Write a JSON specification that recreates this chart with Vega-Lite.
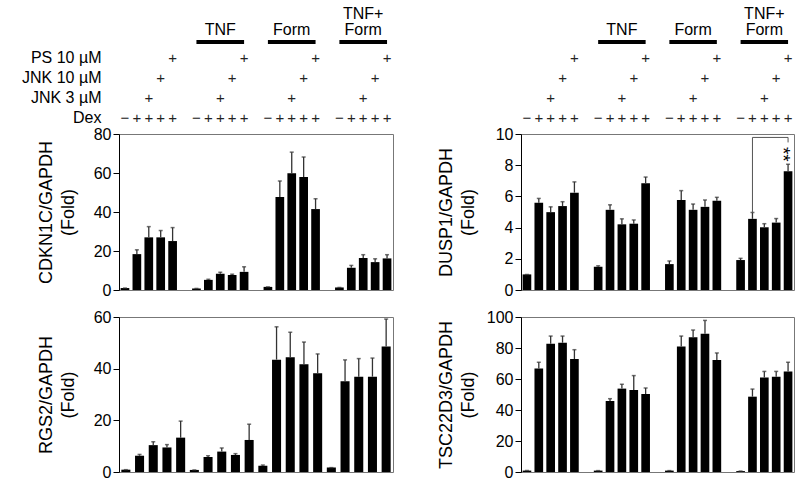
{
  "$schema": "https://vega.github.io/schema/vega-lite/v6.json",
  "background": "white",
  "padding": {"left": 21, "top": 6, "right": 5, "bottom": 3},
  "config": {
    "font": "Liberation Sans",
    "view": {"stroke": "#777", "strokeWidth": 1},
    "axis": {
      "labelFont": "Liberation Sans",
      "titleFont": "Liberation Sans",
      "labelFontSize": 16,
      "titleFontSize": 18,
      "titleFontWeight": "normal",
      "labelColor": "#000",
      "titleColor": "#000",
      "domainColor": "#000",
      "tickColor": "#000",
      "tickSize": 6,
      "labelPadding": 2,
      "labelOverlap": false,
      "titleLineHeight": 22,
      "grid": false
    }
  },
  "datasets": {
    "bars": [
      {"gene": "CDKN1C", "slot": "V1", "mean": 1.0, "upper": 1.0},
      {"gene": "CDKN1C", "slot": "V2", "mean": 18.4, "upper": 20.6},
      {"gene": "CDKN1C", "slot": "V3", "mean": 27.0, "upper": 32.5},
      {"gene": "CDKN1C", "slot": "V4", "mean": 27.0, "upper": 30.5},
      {"gene": "CDKN1C", "slot": "V5", "mean": 25.1, "upper": 32.0},
      {"gene": "CDKN1C", "slot": "T1", "mean": 0.8, "upper": 0.8},
      {"gene": "CDKN1C", "slot": "T2", "mean": 5.2, "upper": 5.5},
      {"gene": "CDKN1C", "slot": "T3", "mean": 8.3, "upper": 9.1},
      {"gene": "CDKN1C", "slot": "T4", "mean": 7.7, "upper": 8.1},
      {"gene": "CDKN1C", "slot": "T5", "mean": 9.3, "upper": 11.9},
      {"gene": "CDKN1C", "slot": "F1", "mean": 1.6, "upper": 1.6},
      {"gene": "CDKN1C", "slot": "F2", "mean": 47.7, "upper": 55.9},
      {"gene": "CDKN1C", "slot": "F3", "mean": 59.9, "upper": 70.7},
      {"gene": "CDKN1C", "slot": "F4", "mean": 58.0, "upper": 68.2},
      {"gene": "CDKN1C", "slot": "F5", "mean": 41.5, "upper": 46.8},
      {"gene": "CDKN1C", "slot": "TF1", "mean": 1.3, "upper": 1.3},
      {"gene": "CDKN1C", "slot": "TF2", "mean": 11.4, "upper": 12.6},
      {"gene": "CDKN1C", "slot": "TF3", "mean": 16.4, "upper": 18.1},
      {"gene": "CDKN1C", "slot": "TF4", "mean": 14.3, "upper": 16.0},
      {"gene": "CDKN1C", "slot": "TF5", "mean": 16.2, "upper": 18.1},
      {"gene": "DUSP1", "slot": "V1", "mean": 1.0, "upper": 1.0},
      {"gene": "DUSP1", "slot": "V2", "mean": 5.59, "upper": 5.87},
      {"gene": "DUSP1", "slot": "V3", "mean": 4.99, "upper": 5.33},
      {"gene": "DUSP1", "slot": "V4", "mean": 5.38, "upper": 5.66},
      {"gene": "DUSP1", "slot": "V5", "mean": 6.24, "upper": 6.93},
      {"gene": "DUSP1", "slot": "T1", "mean": 1.49, "upper": 1.55},
      {"gene": "DUSP1", "slot": "T2", "mean": 5.14, "upper": 5.46},
      {"gene": "DUSP1", "slot": "T3", "mean": 4.21, "upper": 4.56},
      {"gene": "DUSP1", "slot": "T4", "mean": 4.25, "upper": 4.49},
      {"gene": "DUSP1", "slot": "T5", "mean": 6.85, "upper": 7.24},
      {"gene": "DUSP1", "slot": "F1", "mean": 1.66, "upper": 1.86},
      {"gene": "DUSP1", "slot": "F2", "mean": 5.77, "upper": 6.37},
      {"gene": "DUSP1", "slot": "F3", "mean": 5.14, "upper": 5.51},
      {"gene": "DUSP1", "slot": "F4", "mean": 5.33, "upper": 5.77},
      {"gene": "DUSP1", "slot": "F5", "mean": 5.72, "upper": 5.94},
      {"gene": "DUSP1", "slot": "TF1", "mean": 1.92, "upper": 2.03},
      {"gene": "DUSP1", "slot": "TF2", "mean": 4.56, "upper": 4.97},
      {"gene": "DUSP1", "slot": "TF3", "mean": 4.02, "upper": 4.25},
      {"gene": "DUSP1", "slot": "TF4", "mean": 4.32, "upper": 4.58},
      {"gene": "DUSP1", "slot": "TF5", "mean": 7.62, "upper": 8.06},
      {"gene": "RGS2", "slot": "V1", "mean": 0.9, "upper": 0.9},
      {"gene": "RGS2", "slot": "V2", "mean": 6.3, "upper": 6.8},
      {"gene": "RGS2", "slot": "V3", "mean": 10.4, "upper": 11.7},
      {"gene": "RGS2", "slot": "V4", "mean": 9.5, "upper": 10.6},
      {"gene": "RGS2", "slot": "V5", "mean": 13.3, "upper": 19.7},
      {"gene": "RGS2", "slot": "T1", "mean": 0.8, "upper": 0.8},
      {"gene": "RGS2", "slot": "T2", "mean": 5.8, "upper": 6.3},
      {"gene": "RGS2", "slot": "T3", "mean": 7.9, "upper": 9.3},
      {"gene": "RGS2", "slot": "T4", "mean": 6.6, "upper": 7.1},
      {"gene": "RGS2", "slot": "T5", "mean": 12.4, "upper": 18.5},
      {"gene": "RGS2", "slot": "F1", "mean": 2.4, "upper": 2.7},
      {"gene": "RGS2", "slot": "F2", "mean": 43.5, "upper": 56.2},
      {"gene": "RGS2", "slot": "F3", "mean": 44.4, "upper": 54.1},
      {"gene": "RGS2", "slot": "F4", "mean": 41.7, "upper": 50.3},
      {"gene": "RGS2", "slot": "F5", "mean": 38.2, "upper": 45.7},
      {"gene": "RGS2", "slot": "TF1", "mean": 1.7, "upper": 1.7},
      {"gene": "RGS2", "slot": "TF2", "mean": 35.1, "upper": 43.4},
      {"gene": "RGS2", "slot": "TF3", "mean": 36.9, "upper": 43.9},
      {"gene": "RGS2", "slot": "TF4", "mean": 36.9, "upper": 44.1},
      {"gene": "RGS2", "slot": "TF5", "mean": 48.6, "upper": 59.2},
      {"gene": "TSC22D3", "slot": "V1", "mean": 0.9, "upper": 0.9},
      {"gene": "TSC22D3", "slot": "V2", "mean": 66.7, "upper": 70.8},
      {"gene": "TSC22D3", "slot": "V3", "mean": 82.8, "upper": 87.7},
      {"gene": "TSC22D3", "slot": "V4", "mean": 83.4, "upper": 87.7},
      {"gene": "TSC22D3", "slot": "V5", "mean": 72.9, "upper": 78.9},
      {"gene": "TSC22D3", "slot": "T1", "mean": 0.9, "upper": 0.9},
      {"gene": "TSC22D3", "slot": "T2", "mean": 45.8, "upper": 47.3},
      {"gene": "TSC22D3", "slot": "T3", "mean": 53.8, "upper": 56.6},
      {"gene": "TSC22D3", "slot": "T4", "mean": 52.9, "upper": 62.2},
      {"gene": "TSC22D3", "slot": "T5", "mean": 50.3, "upper": 54.2},
      {"gene": "TSC22D3", "slot": "F1", "mean": 0.9, "upper": 0.9},
      {"gene": "TSC22D3", "slot": "F2", "mean": 80.9, "upper": 87.7},
      {"gene": "TSC22D3", "slot": "F3", "mean": 86.9, "upper": 91.6},
      {"gene": "TSC22D3", "slot": "F4", "mean": 89.2, "upper": 97.8},
      {"gene": "TSC22D3", "slot": "F5", "mean": 72.3, "upper": 76.8},
      {"gene": "TSC22D3", "slot": "TF1", "mean": 0.6, "upper": 0.6},
      {"gene": "TSC22D3", "slot": "TF2", "mean": 48.6, "upper": 53.5},
      {"gene": "TSC22D3", "slot": "TF3", "mean": 60.9, "upper": 64.9},
      {"gene": "TSC22D3", "slot": "TF4", "mean": 61.5, "upper": 64.9},
      {"gene": "TSC22D3", "slot": "TF5", "mean": 64.9, "upper": 70.8}
    ],
    "signs": [
      {"slot": "V1", "row": "Dex", "s": "−"},
      {"slot": "V2", "row": "Dex", "s": "+"},
      {"slot": "V3", "row": "Dex", "s": "+"},
      {"slot": "V4", "row": "Dex", "s": "+"},
      {"slot": "V5", "row": "Dex", "s": "+"},
      {"slot": "V3", "row": "JNK 3 µM", "s": "+"},
      {"slot": "V4", "row": "JNK 10 µM", "s": "+"},
      {"slot": "V5", "row": "PS 10 µM", "s": "+"},
      {"slot": "T1", "row": "Dex", "s": "−"},
      {"slot": "T2", "row": "Dex", "s": "+"},
      {"slot": "T3", "row": "Dex", "s": "+"},
      {"slot": "T4", "row": "Dex", "s": "+"},
      {"slot": "T5", "row": "Dex", "s": "+"},
      {"slot": "T3", "row": "JNK 3 µM", "s": "+"},
      {"slot": "T4", "row": "JNK 10 µM", "s": "+"},
      {"slot": "T5", "row": "PS 10 µM", "s": "+"},
      {"slot": "F1", "row": "Dex", "s": "−"},
      {"slot": "F2", "row": "Dex", "s": "+"},
      {"slot": "F3", "row": "Dex", "s": "+"},
      {"slot": "F4", "row": "Dex", "s": "+"},
      {"slot": "F5", "row": "Dex", "s": "+"},
      {"slot": "F3", "row": "JNK 3 µM", "s": "+"},
      {"slot": "F4", "row": "JNK 10 µM", "s": "+"},
      {"slot": "F5", "row": "PS 10 µM", "s": "+"},
      {"slot": "TF1", "row": "Dex", "s": "−"},
      {"slot": "TF2", "row": "Dex", "s": "+"},
      {"slot": "TF3", "row": "Dex", "s": "+"},
      {"slot": "TF4", "row": "Dex", "s": "+"},
      {"slot": "TF5", "row": "Dex", "s": "+"},
      {"slot": "TF3", "row": "JNK 3 µM", "s": "+"},
      {"slot": "TF4", "row": "JNK 10 µM", "s": "+"},
      {"slot": "TF5", "row": "PS 10 µM", "s": "+"}
    ],
    "groupbars": [
      {"start": "T1", "end": "T5", "row": "Group"},
      {"start": "F1", "end": "F5", "row": "Group"},
      {"start": "TF1", "end": "TF5", "row": "Group"}
    ],
    "grouplabels": [
      {"slot": "T3", "row": "Group", "line": "lower", "label": "TNF"},
      {"slot": "F3", "row": "Group", "line": "lower", "label": "Form"},
      {"slot": "TF3", "row": "Group", "line": "lower", "label": "Form"},
      {"slot": "TF3", "row": "Group", "line": "upper", "label": "TNF+"}
    ],
    "bracket": [
      {"slot": "TF2", "v": 4.97, "k": 1},
      {"slot": "TF2", "v": 9.78, "k": 2},
      {"slot": "TF5", "v": 9.78, "k": 3},
      {"slot": "TF5", "v": 9.46, "k": 4}
    ],
    "stars": [
      {"slot": "TF5", "v": 8.7, "t": "**"}
    ]
  },
  "spacing": 42,
  "hconcat": [
    {
      "spacing": -3,
      "vconcat": [
        {
          "width": 274,
          "height": 100,
          "view": {"stroke": null},
          "encoding": {
            "x": {"field": "slot", "type": "nominal", "scale": {"domain": ["V1","V2","V3","V4","V5","g1","T1","T2","T3","T4","T5","g2","F1","F2","F3","F4","F5","g3","TF1","TF2","TF3","TF4","TF5"], "paddingInner": 0.27, "paddingOuter": 0.135}, "axis": null}
          },
          "layer": [
            {
              "data": {"name": "signs"},
              "mark": {"type": "text", "fontSize": 15, "color": "#222", "baseline": "middle"},
              "encoding": {
                "y": {"field": "row", "type": "nominal", "scale": {"type": "band", "domain": ["Group", "PS 10 µM", "JNK 10 µM", "JNK 3 µM", "Dex"], "paddingInner": 0, "paddingOuter": 0}, "axis": {"title": null, "domain": false, "ticks": false, "labelPadding": 18, "labelFontSize": 16, "labelExpr": "datum.value == 'Group' ? '' : datum.value"}},
                "text": {"field": "s"}
              }
            },
            {
              "data": {"name": "groupbars"},
              "mark": {"type": "rule", "color": "black", "strokeWidth": 4, "strokeCap": "butt"},
              "encoding": {
                "x": {"field": "start", "type": "nominal"},
                "x2": {"field": "end"},
                "y": {"field": "row", "type": "nominal", "bandPosition": 0.7}
              }
            },
            {
              "data": {"name": "grouplabels"},
              "transform": [{"filter": "datum.line == 'lower'"}],
              "mark": {"type": "text", "fontSize": 16, "color": "black", "baseline": "bottom"},
              "encoding": {
                "y": {"field": "row", "type": "nominal", "bandPosition": 0.5},
                "text": {"field": "label"}
              }
            },
            {
              "data": {"name": "grouplabels"},
              "transform": [{"filter": "datum.line == 'upper'"}],
              "mark": {"type": "text", "fontSize": 16, "color": "black", "baseline": "bottom", "dy": -16},
              "encoding": {
                "y": {"field": "row", "type": "nominal", "bandPosition": 0.5},
                "text": {"field": "label"}
              }
            }
          ]
        },
        {
          "spacing": 9,
          "vconcat": [
            {
              "width": 274,
              "height": 156,
              "data": {"name": "bars"},
              "transform": [{"filter": "datum.gene == 'CDKN1C'"}],
              "encoding": {
                "x": {"field": "slot", "type": "nominal", "scale": {"domain": ["V1","V2","V3","V4","V5","g1","T1","T2","T3","T4","T5","g2","F1","F2","F3","F4","F5","g3","TF1","TF2","TF3","TF4","TF5"], "paddingInner": 0.27, "paddingOuter": 0.135}, "axis": null}
              },
              "layer": [
                {
                  "mark": {"type": "bar", "color": "black"},
                  "encoding": {"y": {"field": "mean", "type": "quantitative", "title": ["CDKN1C/GAPDH", "(Fold)"], "scale": {"domain": [0, 80]}, "axis": {"values": [0, 20, 40, 60, 80], "titlePadding": 16}}}
                },
                {
                  "mark": {"type": "rule", "color": "#333", "strokeWidth": 1.3},
                  "encoding": {"y": {"field": "mean", "type": "quantitative", "title": ["CDKN1C/GAPDH", "(Fold)"], "axis": {"values": [0, 20, 40, 60, 80], "titlePadding": 16}}, "y2": {"field": "upper"}}
                },
                {
                  "mark": {"type": "tick", "color": "#333", "size": 4, "thickness": 1.5},
                  "encoding": {"y": {"field": "upper", "type": "quantitative", "title": ["CDKN1C/GAPDH", "(Fold)"], "axis": {"values": [0, 20, 40, 60, 80], "titlePadding": 16}}}
                }
              ]
            },
            {
              "width": 274,
              "height": 155,
              "data": {"name": "bars"},
              "transform": [{"filter": "datum.gene == 'RGS2'"}],
              "encoding": {
                "x": {"field": "slot", "type": "nominal", "scale": {"domain": ["V1","V2","V3","V4","V5","T1","T2","T3","T4","T5","F1","F2","F3","F4","F5","TF1","TF2","TF3","TF4","TF5"], "paddingInner": 0.34, "paddingOuter": 0.17}, "axis": null}
              },
              "layer": [
                {
                  "mark": {"type": "bar", "color": "black"},
                  "encoding": {"y": {"field": "mean", "type": "quantitative", "title": ["RGS2/GAPDH", "(Fold)"], "scale": {"domain": [0, 60]}, "axis": {"values": [0, 20, 40, 60], "titlePadding": 16}}}
                },
                {
                  "mark": {"type": "rule", "color": "#333", "strokeWidth": 1.3},
                  "encoding": {"y": {"field": "mean", "type": "quantitative", "title": ["RGS2/GAPDH", "(Fold)"], "axis": {"values": [0, 20, 40, 60], "titlePadding": 16}}, "y2": {"field": "upper"}}
                },
                {
                  "mark": {"type": "tick", "color": "#333", "size": 4, "thickness": 1.5},
                  "encoding": {"y": {"field": "upper", "type": "quantitative", "title": ["RGS2/GAPDH", "(Fold)"], "axis": {"values": [0, 20, 40, 60], "titlePadding": 16}}}
                }
              ]
            }
          ]
        }
      ]
    },
    {
      "spacing": -3,
      "vconcat": [
        {
          "width": 273,
          "height": 100,
          "view": {"stroke": null},
          "encoding": {
            "x": {"field": "slot", "type": "nominal", "scale": {"domain": ["V1","V2","V3","V4","V5","g1","T1","T2","T3","T4","T5","g2","F1","F2","F3","F4","F5","g3","TF1","TF2","TF3","TF4","TF5"], "paddingInner": 0.27, "paddingOuter": 0.135}, "axis": null}
          },
          "layer": [
            {
              "data": {"name": "signs"},
              "mark": {"type": "text", "fontSize": 15, "color": "#222", "baseline": "middle"},
              "encoding": {
                "y": {"field": "row", "type": "nominal", "scale": {"type": "band", "domain": ["Group", "PS 10 µM", "JNK 10 µM", "JNK 3 µM", "Dex"], "paddingInner": 0, "paddingOuter": 0}, "axis": null},
                "text": {"field": "s"}
              }
            },
            {
              "data": {"name": "groupbars"},
              "mark": {"type": "rule", "color": "black", "strokeWidth": 4, "strokeCap": "butt"},
              "encoding": {
                "x": {"field": "start", "type": "nominal"},
                "x2": {"field": "end"},
                "y": {"field": "row", "type": "nominal", "bandPosition": 0.7}
              }
            },
            {
              "data": {"name": "grouplabels"},
              "transform": [{"filter": "datum.line == 'lower'"}],
              "mark": {"type": "text", "fontSize": 16, "color": "black", "baseline": "bottom"},
              "encoding": {
                "y": {"field": "row", "type": "nominal", "bandPosition": 0.5},
                "text": {"field": "label"}
              }
            },
            {
              "data": {"name": "grouplabels"},
              "transform": [{"filter": "datum.line == 'upper'"}],
              "mark": {"type": "text", "fontSize": 16, "color": "black", "baseline": "bottom", "dy": -16},
              "encoding": {
                "y": {"field": "row", "type": "nominal", "bandPosition": 0.5},
                "text": {"field": "label"}
              }
            }
          ]
        },
        {
          "spacing": 9,
          "vconcat": [
            {
              "width": 273,
              "height": 156,
              "encoding": {
                "x": {"field": "slot", "type": "nominal", "scale": {"domain": ["V1","V2","V3","V4","V5","g1","T1","T2","T3","T4","T5","g2","F1","F2","F3","F4","F5","g3","TF1","TF2","TF3","TF4","TF5"], "paddingInner": 0.27, "paddingOuter": 0.135}, "axis": null}
              },
              "layer": [
                {
                  "data": {"name": "bars"},
                  "transform": [{"filter": "datum.gene == 'DUSP1'"}],
                  "mark": {"type": "bar", "color": "black"},
                  "encoding": {"y": {"field": "mean", "type": "quantitative", "title": ["DUSP1/GAPDH", "(Fold)"], "scale": {"domain": [0, 10]}, "axis": {"values": [0, 2, 4, 6, 8, 10], "titlePadding": 18}}}
                },
                {
                  "data": {"name": "bars"},
                  "transform": [{"filter": "datum.gene == 'DUSP1'"}],
                  "mark": {"type": "rule", "color": "#333", "strokeWidth": 1.3},
                  "encoding": {"y": {"field": "mean", "type": "quantitative", "title": ["DUSP1/GAPDH", "(Fold)"], "axis": {"values": [0, 2, 4, 6, 8, 10], "titlePadding": 18}}, "y2": {"field": "upper"}}
                },
                {
                  "data": {"name": "bars"},
                  "transform": [{"filter": "datum.gene == 'DUSP1'"}],
                  "mark": {"type": "tick", "color": "#333", "size": 4, "thickness": 1.5},
                  "encoding": {"y": {"field": "upper", "type": "quantitative", "title": ["DUSP1/GAPDH", "(Fold)"], "axis": {"values": [0, 2, 4, 6, 8, 10], "titlePadding": 18}}}
                },
                {
                  "data": {"name": "bracket"},
                  "mark": {"type": "line", "color": "#555", "strokeWidth": 1},
                  "encoding": {"y": {"field": "v", "type": "quantitative", "title": ["DUSP1/GAPDH", "(Fold)"], "axis": {"values": [0, 2, 4, 6, 8, 10], "titlePadding": 18}}, "order": {"field": "k"}}
                },
                {
                  "data": {"name": "stars"},
                  "mark": {"type": "text", "fontSize": 19, "color": "black", "angle": 90, "align": "center", "baseline": "middle", "dy": 5},
                  "encoding": {"y": {"field": "v", "type": "quantitative", "title": ["DUSP1/GAPDH", "(Fold)"], "axis": {"values": [0, 2, 4, 6, 8, 10], "titlePadding": 18}}, "text": {"field": "t"}}
                }
              ]
            },
            {
              "width": 273,
              "height": 155,
              "data": {"name": "bars"},
              "transform": [{"filter": "datum.gene == 'TSC22D3'"}],
              "encoding": {
                "x": {"field": "slot", "type": "nominal", "scale": {"domain": ["V1","V2","V3","V4","V5","g1","T1","T2","T3","T4","T5","g2","F1","F2","F3","F4","F5","g3","TF1","TF2","TF3","TF4","TF5"], "paddingInner": 0.27, "paddingOuter": 0.135}, "axis": null}
              },
              "layer": [
                {
                  "mark": {"type": "bar", "color": "black"},
                  "encoding": {"y": {"field": "mean", "type": "quantitative", "title": ["TSC22D3/GAPDH", "(Fold)"], "scale": {"domain": [0, 100]}, "axis": {"values": [0, 20, 40, 60, 80, 100], "titlePadding": 9}}}
                },
                {
                  "mark": {"type": "rule", "color": "#333", "strokeWidth": 1.3},
                  "encoding": {"y": {"field": "mean", "type": "quantitative", "title": ["TSC22D3/GAPDH", "(Fold)"], "axis": {"values": [0, 20, 40, 60, 80, 100], "titlePadding": 9}}, "y2": {"field": "upper"}}
                },
                {
                  "mark": {"type": "tick", "color": "#333", "size": 4, "thickness": 1.5},
                  "encoding": {"y": {"field": "upper", "type": "quantitative", "title": ["TSC22D3/GAPDH", "(Fold)"], "axis": {"values": [0, 20, 40, 60, 80, 100], "titlePadding": 9}}}
                }
              ]
            }
          ]
        }
      ]
    }
  ]
}
